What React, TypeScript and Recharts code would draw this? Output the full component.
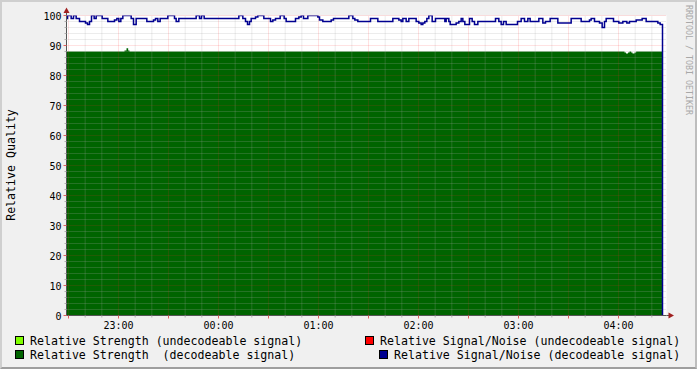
import React from 'react';
import { ComposedChart, Area, Line, XAxis, YAxis, CartesianGrid, ReferenceLine } from 'recharts';

// time in minutes since 22:00 ; [time, value]
const snrSteps: [number, number][] = [
  [28.8, 99], [29.4, 100], [31.6, 99], [33.0, 100], [34.6, 99], [36.6, 98], [40.2, 97.5], [41.4, 97],
  [42.6, 98], [43.8, 100], [45.4, 99], [46.6, 100], [50.2, 99], [53.6, 98], [57.6, 98.5], [59.0, 99],
  [60.2, 98], [61.4, 99], [62.6, 100], [67.6, 99], [69.0, 97], [70.6, 99], [77.0, 98], [81.0, 98.5],
  [82.2, 99], [83.6, 98], [85.0, 99], [89.6, 100], [93.6, 99], [94.6, 98], [96.2, 99], [106.6, 100],
  [108.6, 99], [109.8, 100], [111.4, 99], [132.2, 100], [134.6, 99], [136.2, 98], [137.4, 97], [138.6, 98],
  [139.6, 99], [142.2, 99.5], [143.6, 100], [147.2, 99], [151.2, 98], [152.6, 98.5], [154.2, 99], [157.0, 100],
  [159.4, 99], [160.6, 98], [166.2, 99], [168.2, 99.5], [169.6, 100], [171.0, 99], [173.6, 100], [179.6, 99.5],
  [180.6, 98.5], [182.6, 98], [187.6, 98.5], [189.0, 99], [198.2, 100], [200.6, 99], [201.8, 98.5], [203.6, 98],
  [211.2, 99], [215.6, 98], [224.6, 99], [228.2, 98.5], [229.6, 98], [230.6, 99], [232.6, 98], [234.2, 99],
  [238.6, 98], [240.2, 97.5], [241.6, 97], [242.6, 97.5], [243.8, 98], [245.0, 99], [246.2, 100], [248.2, 98],
  [250.2, 99], [255.8, 98], [256.6, 99], [258.2, 98], [259.0, 97], [262.6, 97.5], [264.2, 98], [265.6, 99],
  [266.6, 98], [267.8, 97], [270.6, 99], [272.2, 98], [273.6, 97], [275.6, 98], [286.2, 99], [288.2, 98],
  [289.6, 97], [291.0, 98], [292.6, 97], [299.4, 98], [301.6, 99], [303.6, 98], [305.6, 99], [307.0, 98],
  [312.2, 99], [314.6, 97.5], [316.2, 98], [319.0, 99], [323.6, 97.5], [331.6, 99], [337.6, 98], [342.6, 98.5],
  [343.6, 99], [345.6, 98], [348.6, 97.5], [350.2, 96], [351.6, 98], [352.6, 99], [357.0, 98], [360.2, 97.5],
  [362.6, 98], [365.0, 97.5], [366.6, 98], [370.6, 98.5], [374.2, 99], [376.6, 98], [383.6, 97.5], [385.0, 97],
  [386.4, 0],
];

const strengthSteps: [number, number][] = [
  [28.8, 88], [63.6, 88.3], [64.8, 89.1], [65.8, 88.3], [66.6, 88],
  [363.6, 87.7], [364.5, 87.3], [365.7, 87.7], [366.6, 88], [367.6, 87.7], [368.4, 87.3], [369.6, 87.7],
  [370.6, 88], [386.4, 88],
];

const xTicks = [30, 40, 50, 60, 70, 80, 90, 100, 110, 120, 130, 140, 150, 160, 170, 180, 190, 200, 210, 220, 230, 240,
  250, 260, 270, 280, 290, 300, 310, 320, 330, 340, 350, 360, 370, 380];
const xLabelMinutes = [60, 120, 180, 240, 300, 360];
const xLabelTexts = ['23:00', '00:00', '01:00', '02:00', '03:00', '04:00'];
const yTicks = [0, 2, 4, 6, 8, 10, 12, 14, 16, 18, 20, 22, 24, 26, 28, 30, 32, 34, 36, 38, 40, 42, 44, 46, 48, 50,
  52, 54, 56, 58, 60, 62, 64, 66, 68, 70, 72, 74, 76, 78, 80, 82, 84, 86, 88, 90, 92, 94, 96, 98, 100];
const yMajor = [0, 10, 20, 30, 40, 50, 60, 70, 80, 90, 100];
const xMajor = [30, 60, 90, 120, 150, 180, 210, 240, 270, 300, 330, 360];

const legendLabels = [
  'Relative Strength (undecodeable signal)',
  'Relative Signal/Noise (undecodeable signal)',
  'Relative Strength  (decodeable signal)',
  'Relative Signal/Noise (decodeable signal)',
];
const legendColors = ['#80ff00', '#ff0000', '#006400', '#000090'];

const snrData = snrSteps.map(([t, v]) => ({ t, v }));
const strengthData = strengthSteps.map(([t, v]) => ({ t, v }));

const FONT = "'DejaVu Sans Mono', monospace";
const MINOR = 'rgba(170,170,170,0.45)';
const MAJOR = 'rgba(255,40,40,0.27)';

const XTick = (props: any) => {
  const { x, y, payload } = props;
  const v = payload.value;
  const major = xMajor.includes(v);
  const idx = xLabelMinutes.indexOf(v);
  return (
    <g>
      <line x1={x} x2={x} y1={y} y2={y + (major ? 3 : 2)} stroke={major ? '#e06060' : '#b0b0b0'} />
      {idx >= 0 && (
        <text x={x} y={y + 6} dy="0.71em" textAnchor="middle" fontFamily={FONT} fontSize={10} fill="#000">
          {xLabelTexts[idx]}
        </text>
      )}
    </g>
  );
};

const YTick = (props: any) => {
  const { x, y, payload } = props;
  const v = payload.value;
  const major = yMajor.includes(v);
  return (
    <g>
      <line x1={x - (major ? 3 : 2)} x2={x} y1={y} y2={y} stroke={major ? '#e06060' : '#b0b0b0'} />
      {major && (
        <text x={x - 5} y={y + 0.5} dy="0.355em" textAnchor="end" fontFamily={FONT} fontSize={10} fill="#000">
          {v}
        </text>
      )}
    </g>
  );
};

export default function App() {
  const minorH = yTicks.filter((v) => !yMajor.includes(v));
  const minorV = xTicks.filter((v) => !xMajor.includes(v));
  return (
    <div style={{ position: 'absolute', left: 0, top: 0, width: 697, height: 369, background: '#f0f0f0', overflow: 'hidden' }}>
      <ComposedChart width={697} height={369} margin={{ top: 15.5, right: 30.5, bottom: 33.5, left: 0.5 }}>
        <CartesianGrid fill="#ffffff" horizontal={false} vertical={false} />
        <XAxis
          type="number"
          dataKey="t"
          domain={[28.8, 388.8]}
          ticks={xTicks}
          interval={0}
          allowDataOverflow
          height={20}
          tickSize={0}
          tickMargin={0}
          tickLine={false}
          axisLine={{ stroke: '#555555' }}
          tick={(p: any) => <XTick {...p} />}
        />
        <YAxis
          type="number"
          domain={[0, 100]}
          ticks={yTicks}
          interval={0}
          allowDataOverflow
          width={66}
          tickSize={0}
          tickMargin={0}
          tickLine={false}
          axisLine={{ stroke: '#555555' }}
          tick={(p: any) => <YTick {...p} />}
        />
        <Area
          data={strengthData}
          dataKey="v"
          type="stepAfter"
          fill="#006400"
          fillOpacity={1}
          stroke="none"
          isAnimationActive={false}
        />
        {minorH.map((v) => (
          <ReferenceLine key={'mh' + v} y={v} stroke={MINOR} strokeDasharray="1 1" />
        ))}
        {minorV.map((v) => (
          <ReferenceLine key={'mv' + v} x={v} stroke={MINOR} strokeDasharray="1 1" />
        ))}
        {yMajor.filter((v) => v > 0).map((v) => (
          <ReferenceLine key={'MH' + v} y={v} stroke={MAJOR} strokeDasharray="1 1" />
        ))}
        {xMajor.map((v) => (
          <ReferenceLine key={'MV' + v} x={v} stroke={MAJOR} strokeDasharray="1 1" />
        ))}
        <Line
          data={snrData}
          dataKey="v"
          type="stepAfter"
          stroke="#000090"
          strokeWidth={1.5}
          dot={false}
          isAnimationActive={false}
        />
      </ComposedChart>
      <svg width={697} height={369} style={{ position: 'absolute', left: 0, top: 0, pointerEvents: 'none' }}>
        <line x1={66.5} x2={66.5} y1={15.5} y2={11} stroke="#555555" />
        <polygon points="63.5,13 69.5,13 66.5,7.5" fill="#a02020" />
        <line x1={666.5} x2={669} y1={315.5} y2={315.5} stroke="#555555" />
        <polygon points="668.5,312.5 668.5,318.5 674,315.5" fill="#a02020" />
        <text
          transform="translate(15,165) rotate(-90)"
          textAnchor="middle"
          fontFamily={FONT}
          fontSize={11.6}
          fill="#000"
        >
          Relative Quality
        </text>
        <text transform="translate(685.5,5) rotate(90)" fontFamily={FONT} fontSize={8.3} fill="#a8a8a8">
          RRDTOOL / TOBI OETIKER
        </text>
        {[
          { sx: 15.5, sy: 336.5, tx: 30, ty: 345 },
          { sx: 365.5, sy: 336.5, tx: 380, ty: 345 },
          { sx: 15.5, sy: 350.5, tx: 30, ty: 359 },
          { sx: 379.5, sy: 350.5, tx: 394, ty: 359 },
        ].map((p, i) => (
          <g key={i}>
            <rect x={p.sx} y={p.sy} width={8} height={8} fill={legendColors[i]} stroke="#000" />
            <text x={p.tx} y={p.ty} fontFamily={FONT} fontSize={11.6} fill="#000" style={{ whiteSpace: 'pre' }}>
              {legendLabels[i]}
            </text>
          </g>
        ))}
      </svg>
      <div
        style={{
          position: 'absolute', left: 0, top: 0, width: 697, height: 369, boxSizing: 'border-box',
          borderTop: '2px solid #cfcfcf', borderLeft: '2px solid #cfcfcf',
          borderRight: '2px solid #bdbdbd', borderBottom: '2px solid #9e9e9e', pointerEvents: 'none',
        }}
      />
    </div>
  );
}
